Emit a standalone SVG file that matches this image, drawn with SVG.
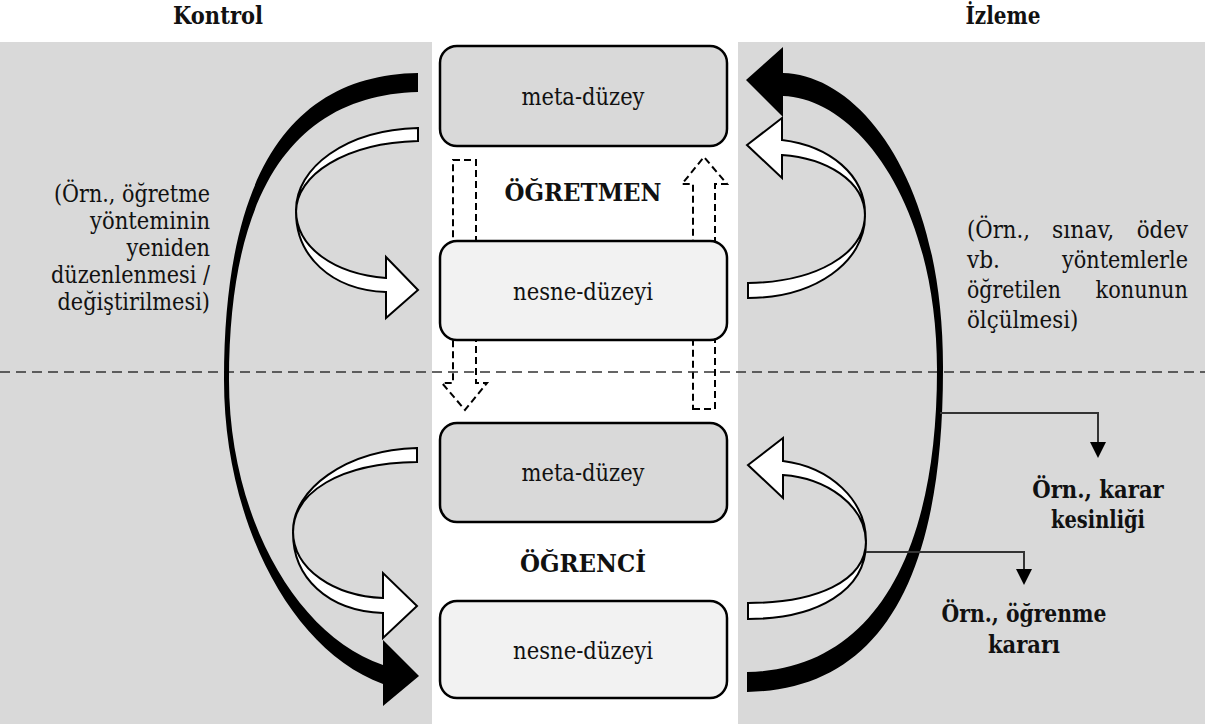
<svg xmlns="http://www.w3.org/2000/svg" width="1205" height="724" viewBox="0 0 1205 724">
<style>
.bg{fill:#d9d9d9}
.box{stroke:#000;stroke-width:2.5}
.meta{fill:#d9d9d9}
.obj{fill:#f2f2f2}
.t{font-family:"DejaVu Serif",serif;font-size:23.5px;fill:#111}
.b{font-family:"DejaVu Serif",serif;font-size:23.5px;font-weight:bold;fill:#111}
.c{text-anchor:middle}
.e{text-anchor:end}
.dash{fill:none;stroke:#000;stroke-width:2;stroke-dasharray:7 4}
.blk{fill:#000}
.wht{fill:#fff;stroke:#000;stroke-width:2;stroke-linejoin:miter}
.ln{fill:none;stroke:#333;stroke-width:2}
</style>
<rect class="bg" x="0" y="42" width="432" height="682"/>
<rect class="bg" x="738" y="42" width="467" height="682"/>
<g id="titles">
<text class="b c" x="218" y="24" textLength="90" lengthAdjust="spacingAndGlyphs">Kontrol</text>
<text class="b c" x="1003" y="24" textLength="75" lengthAdjust="spacingAndGlyphs">İzleme</text>
</g>
<g id="dashed-arrows">
<polygon class="dash" points="453,160 476,160 476,383 487,383 465,410 442,383 453,383"/>
<polygon class="dash" points="693,409 715,409 715,184 727,184 704,157 682,184 693,184"/>
</g>
<g id="nodes">
<g id="teacher-meta"><rect class="box meta" x="440" y="46" width="287" height="100" rx="17"/><text class="t c" x="583" y="105" textLength="123" lengthAdjust="spacingAndGlyphs">meta-düzey</text></g>
<g id="teacher-object"><rect class="box obj" x="440" y="241" width="287" height="99" rx="17"/><text class="t c" x="583" y="300" textLength="140" lengthAdjust="spacingAndGlyphs">nesne-düzeyi</text></g>
<g id="student-meta"><rect class="box meta" x="440" y="423" width="287" height="99" rx="17"/><text class="t c" x="583" y="481" textLength="123" lengthAdjust="spacingAndGlyphs">meta-düzey</text></g>
<g id="student-object"><rect class="box obj" x="440" y="601" width="287" height="97" rx="17"/><text class="t c" x="583" y="659" textLength="140" lengthAdjust="spacingAndGlyphs">nesne-düzeyi</text></g>
<g id="teacher-label"><text class="b c" x="583" y="201" textLength="157" lengthAdjust="spacingAndGlyphs">ÖĞRETMEN</text></g>
<g id="student-label"><text class="b c" x="583" y="572" textLength="126" lengthAdjust="spacingAndGlyphs">ÖĞRENCİ</text></g>
</g>
<line x1="0" y1="372" x2="1205" y2="372" stroke="#333" stroke-width="1.3" stroke-dasharray="10 6"/>
<g id="connectors">
<path class="wht" d="M418,128 C345,130 296,168 296,210 C296,248 335,274 386,278 L386,257 L418,290 L386,318 L386,292 C330,290 296,255 296,212 C296,175 345,143 418,141 Z"/>
<path class="wht" d="M782,140 C830,146 865,175 865,214 C865,255 815,282 748,283 L748,298 C815,298 865,262 865,216 C865,180 825,158 782,155 L782,178 L747,145 L782,118 Z"/>
<path class="wht" d="M417,448 C345,450 293,490 293,531 C293,570 335,596 383,598 L383,573 L417,606 L383,638 L383,613 C327,611 293,577 293,533 C293,492 340,463 417,462 Z"/>
<path class="wht" d="M783,461 C830,467 866,500 866,541 C866,582 815,603 748,603 L748,619 C818,619 866,590 866,543 C866,505 826,478 783,475 L783,498 L748,465 L783,438 Z"/>
<path class="blk" d="M418,73 C300,75 224,160 224,380 C224,520 290,650 383,684 L383,706 L419,676 L383,640 L383,665 C295,635 229,515 229,380 C229,175 305,95 418,92 Z"/>
<path class="blk" d="M783,73 C860,75 944,180 943,370 C943,580 880,690 747,692 L747,672 C870,670 937,560 937,370 C937,200 855,98 783,96 L783,117 L746,80 L783,47 Z"/>
<polyline class="ln" points="940,413 1098,413 1098,443"/>
<polygon points="1090,442 1106,442 1098,458" fill="#000"/>
<polyline class="ln" points="866,552 1024,552 1024,570"/>
<polygon points="1016,569 1032,569 1024,585" fill="#000"/>
</g>
<g id="left-note">
<text class="t e" x="210" y="202" textLength="156" lengthAdjust="spacingAndGlyphs">(Örn., öğretme</text>
<text class="t e" x="210" y="229" textLength="120" lengthAdjust="spacingAndGlyphs">yönteminin</text>
<text class="t e" x="210" y="256" textLength="83.5" lengthAdjust="spacingAndGlyphs">yeniden</text>
<text class="t e" x="210" y="283" textLength="159" lengthAdjust="spacingAndGlyphs">düzenlenmesi /</text>
<text class="t e" x="210" y="310" textLength="152.5" lengthAdjust="spacingAndGlyphs">değiştirilmesi)</text>
</g>
<g id="right-note">
<text class="t" x="967" y="238" textLength="63" lengthAdjust="spacingAndGlyphs">(Örn.,</text>
<text class="t" x="1052" y="238" textLength="62.3" lengthAdjust="spacingAndGlyphs">sınav,</text>
<text class="t e" x="1188" y="238" textLength="51.3" lengthAdjust="spacingAndGlyphs">ödev</text>
<text class="t" x="967" y="268" textLength="33" lengthAdjust="spacingAndGlyphs">vb.</text>
<text class="t e" x="1188" y="268" textLength="126" lengthAdjust="spacingAndGlyphs">yöntemlerle</text>
<text class="t" x="967" y="298" textLength="93.8" lengthAdjust="spacingAndGlyphs">öğretilen</text>
<text class="t e" x="1188" y="298" textLength="92.4" lengthAdjust="spacingAndGlyphs">konunun</text>
<text class="t" x="967" y="328" textLength="111.4" lengthAdjust="spacingAndGlyphs">ölçülmesi)</text>
</g>
<g id="labels">
<text class="b c" x="1098" y="498" textLength="131.5" lengthAdjust="spacingAndGlyphs">Örn., karar</text>
<text class="b c" x="1098" y="528" textLength="94" lengthAdjust="spacingAndGlyphs">kesinliği</text>
<text class="b c" x="1024" y="622" textLength="165" lengthAdjust="spacingAndGlyphs">Örn., öğrenme</text>
<text class="b c" x="1024" y="653" textLength="72" lengthAdjust="spacingAndGlyphs">kararı</text>
</g>
</svg>
